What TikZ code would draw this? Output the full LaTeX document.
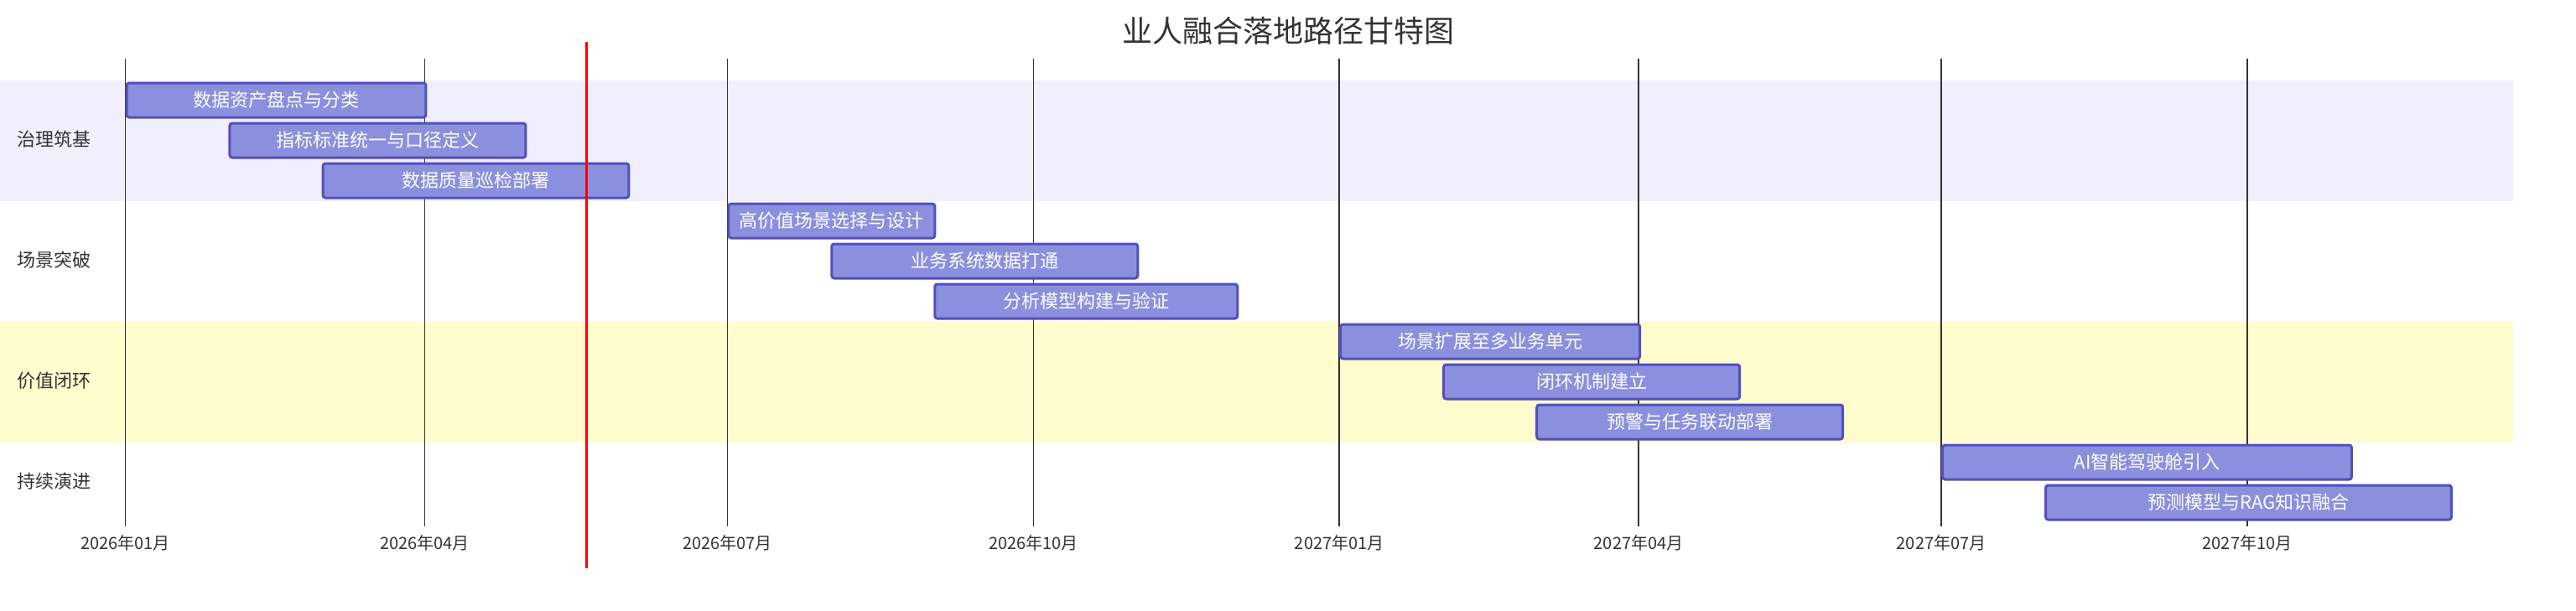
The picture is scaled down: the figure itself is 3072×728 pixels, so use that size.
\documentclass[tikz,border=0pt]{standalone}
\usepackage{fontspec}
\setmainfont{Noto Sans CJK SC}
\definecolor{taskfill}{HTML}{8A90DD}
\definecolor{taskline}{HTML}{534FBC}
\definecolor{bandblue}{HTML}{EFEFFD}
\definecolor{bandyellow}{HTML}{FFFCCD}
\definecolor{gridgray}{HTML}{333333}
\definecolor{textgray}{HTML}{333333}

\begin{document}
\begin{tikzpicture}[x=0.5pt,y=-0.5pt,
  task/.style={draw=taskline,fill=taskfill,line width=1.5pt,rounded corners=1.5pt,
    minimum height=20.5pt,inner sep=0pt,anchor=west,text=white,
    font=\fontsize{11}{13}\selectfont},
  sect/.style={anchor=west,inner sep=0pt,text=textgray,font=\fontsize{11}{13}\selectfont},
  tick/.style={text=textgray,font=\fontsize{10}{12}\selectfont}]
  \useasboundingbox (0,0) rectangle (3072,728);
  % section bands
  \fill[bandblue] (0,96) rectangle (2997,240);
  \fill[bandyellow] (0,384) rectangle (2997,528);
  % month grid
  \foreach \d/\lab [count=\i] in {0/2026年01月,90/2026年04月,181/2026年07月,273/2026年10月,
      365/2027年01月,455/2027年04月,546/2027年07月,638/2027年10月}{
    \draw[gridgray,line width=0.75pt] ({149.5+\d*3.9663},70) -- ({149.5+\d*3.9663},628);
    \node[tick] (m\i) at ({149.5+\d*3.9663},648) {\lab};
  }
  % sections
  \node[sect] (s1) at (20,166) {治理筑基};
  \node[sect] (s2) at (20,310) {场景突破};
  \node[sect] (s3) at (20,454) {价值闭环};
  \node[sect] (s4) at (20,574) {持续演进};
  % tasks: row/start day/end day/text
  \foreach \r/\s/\e/\txt [count=\i] in {0/0/90/数据资产盘点与分类,
      1/31/120/指标标准统一与口径定义,
      2/59/151/数据质量巡检部署,
      3/181/243/高价值场景选择与设计,
      4/212/304/业务系统数据打通,
      5/243/334/分析模型构建与验证,
      6/365/455/场景扩展至多业务单元,
      7/396/485/闭环机制建立,
      8/424/516/预警与任务联动部署,
      9/546/669/AI智能驾驶舱引入,
      10/577/699/预测模型与RAG知识融合}{
    \pgfmathsetmacro{\w}{(\e-\s)*3.9663*0.5}
    \node[task,minimum width=\w pt] (t\i) at ({149.5+\s*3.9663},{119.5+48*\r}) {\txt};
  }
  % today
  \draw[red,line width=1.75pt] (699.5,50) -- (699.5,678);
  \node[text=textgray,font=\fontsize{18}{22}\selectfont] (title) at (1536,37) {业人融合落地路径甘特图};
\end{tikzpicture}
\end{document}
